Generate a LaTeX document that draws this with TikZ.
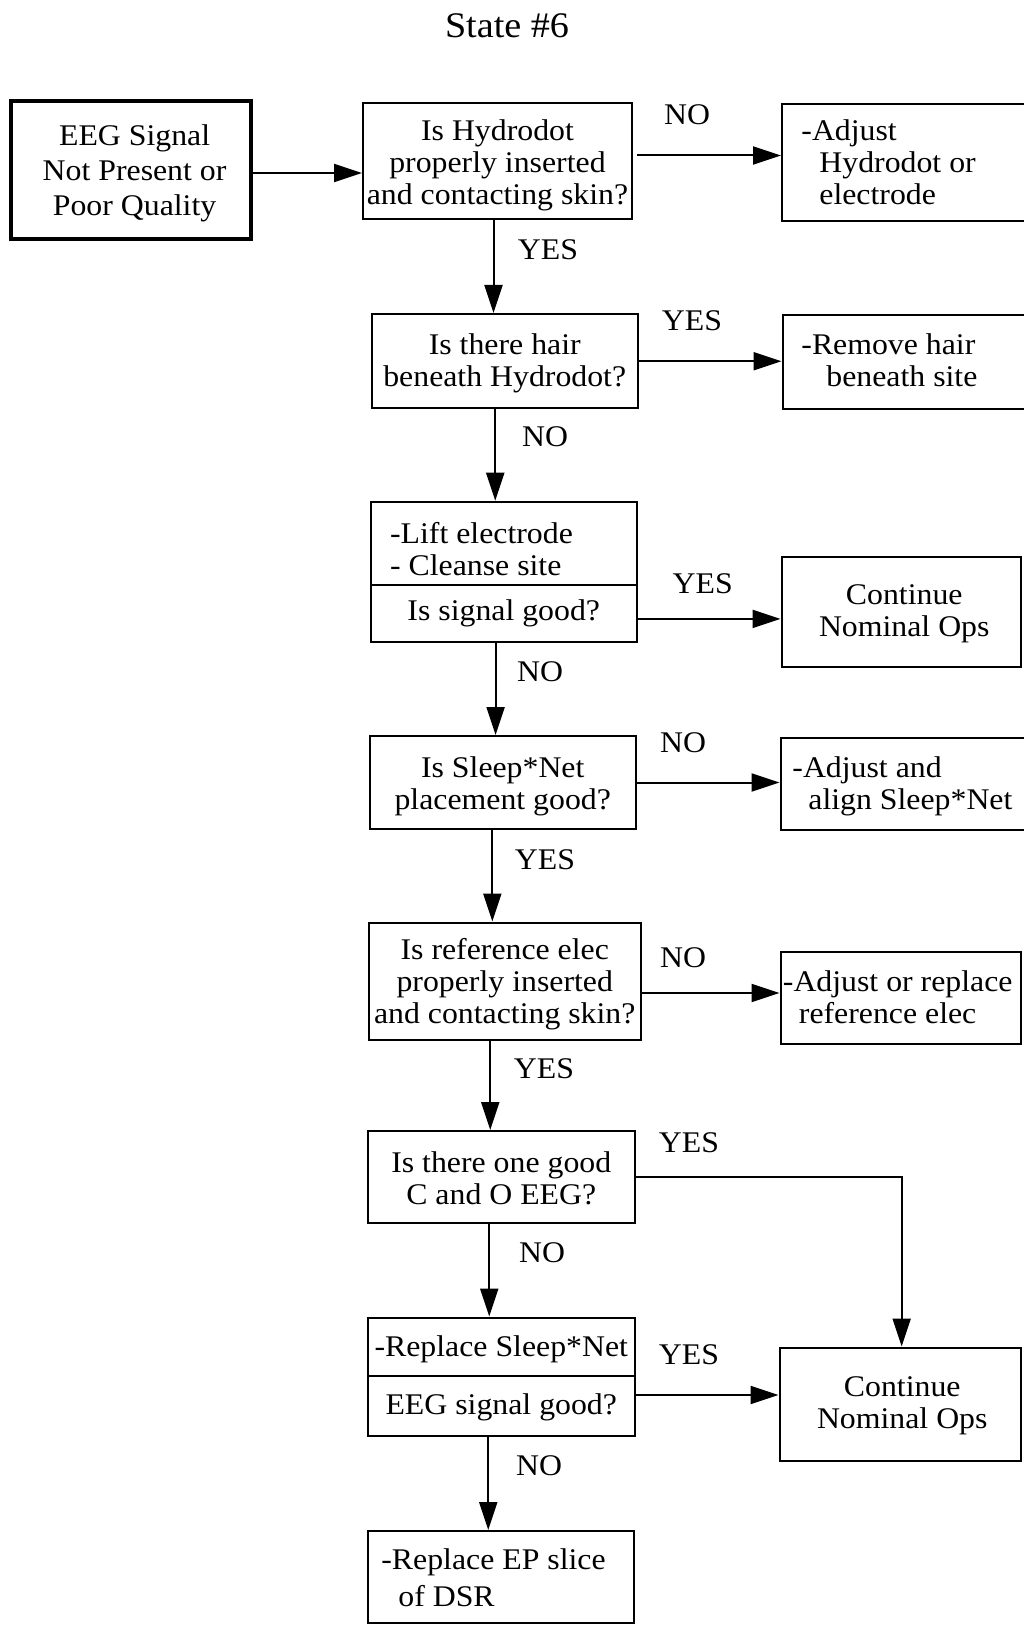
\documentclass[tikz,border=0pt]{standalone}
\usepackage{fontspec}
\setmainfont{Liberation Serif}[FakeStretch=1.06]
\usetikzlibrary{arrows.meta}
\newcommand{\bodysize}{\fontsize{15pt}{16pt}\selectfont}
\begin{document}
\begin{tikzpicture}[x=0.5pt,y=-0.5pt,
  box/.style={draw, line width=1pt, inner sep=0pt},
  inbox/.style={inner sep=0pt, align=center, font=\bodysize},
  txt/.style={inner sep=0pt, align=left, anchor=west, font=\bodysize},
  lbl/.style={inner sep=0pt, font=\bodysize},
  arr/.style={line width=1pt, -{Triangle[length=14pt,width=9pt]}},
]
\useasboundingbox (0,0) rectangle (1023,1625);

% title
\node[inner sep=0pt, font=\fontsize{18pt}{20pt}\selectfont] (title) at (507,26) {State \#6};

% left column of questions
\node[box, line width=1.7pt, minimum width=120pt, minimum height=69pt] (A) at (131,170) {};
\node[inbox, font=\fontsize{15pt}{17.5pt}\selectfont] (At) at ([xshift=1.8pt,yshift=-1.6pt]A.center)
      {EEG Signal\\Not Present or\\Poor Quality};
\node[box, minimum width=134.5pt, minimum height=58pt] (B) at (497.5,161) {};
\node[inbox] (Bt) at ([yshift=-2.1pt]B.center)
      {Is Hydrodot\\properly inserted\\and contacting skin?};
\node[box, minimum width=132.75pt, minimum height=47.25pt] (D) at (504.75,361.25) {};
\node[inbox] (Dt) at ([yshift=-1.1pt]D.center) {Is there hair\\beneath Hydrodot?};
\node[box, minimum width=132.75pt, minimum height=41.45pt] (F1) at (503.75,543.15) {};
\node[txt] (F1t) at (389.7,549.4) {-Lift electrode\\- Cleanse site};
\node[box, minimum width=132.75pt, minimum height=28.5pt] (F2) at (503.75,613.1) {};
\node[inbox] (F2t) at ([yshift=-0.3pt]F2.center) {Is signal good?};
\node[box, minimum width=132.75pt, minimum height=46.5pt] (H) at (502.75,782.5) {};
\node[inbox] (Ht) at ([yshift=-2pt]H.center) {Is Sleep*Net\\placement good?};
\node[box, minimum width=135.75pt, minimum height=58.5pt] (J) at (504.75,981) {};
\node[inbox] (Jt) at ([yshift=-1.4pt]J.center)
      {Is reference elec\\properly inserted\\and contacting skin?};
\node[box, minimum width=133.25pt, minimum height=46pt] (L) at (501.25,1177) {};
\node[inbox] (Lt) at ([yshift=-0.6pt]L.center) {Is there one good\\C and O EEG?};
\node[box, minimum width=133.25pt, minimum height=29pt] (M1) at (501.25,1346.5) {};
\node[inbox] (M1t) at ([yshift=-1.5pt]M1.center) {-Replace Sleep*Net};
\node[box, minimum width=133.25pt, minimum height=30pt] (M2) at (501.25,1405.5) {};
\node[inbox] (M2t) at ([yshift=-1pt]M2.center) {EEG signal good?};
\node[box, minimum width=132.75pt, minimum height=46pt] (O) at (500.75,1577) {};
\node[txt, font=\fontsize{15pt}{18.5pt}\selectfont] (Ot) at (381,1577.5)
      {-Replace EP slice\\\hspace*{8.5pt}of DSR};

% right column of actions
\node[box, minimum width=131.5pt, minimum height=58.5pt] (C) at (913.5,162.5) {};
\node[txt] (Ct) at (801,162.7) {-Adjust\\\hspace*{9pt}Hydrodot or\\\hspace*{9pt}electrode};
\node[box, minimum width=131.25pt, minimum height=47.25pt] (E) at (913.75,362.25) {};
\node[txt] (Et) at (801,360.5) {-Remove hair\\\hspace*{12.5pt}beneath site};
\node[box, minimum width=119.75pt, minimum height=54.95pt] (G) at (901.25,611.55) {};
\node[inbox] (Gt) at ([xshift=1.5pt,yshift=-1pt]G.center) {Continue\\Nominal Ops};
\node[box, minimum width=132.25pt, minimum height=46pt] (I) at (912.75,784) {};
\node[txt] (It) at (792,786.5) {-Adjust and\\\hspace*{8pt}align Sleep*Net};
\node[box, minimum width=120.25pt, minimum height=46.25pt] (K) at (900.75,997.75) {};
\node[txt] (Kt) at (782.5,997.6) {-Adjust or replace\\\hspace*{8pt}reference elec};
\node[box, minimum width=120.75pt, minimum height=56.5pt] (N) at (900.25,1404) {};
\node[inbox] (Nt) at ([xshift=1pt,yshift=-1pt]N.center) {Continue\\Nominal Ops};

% connectors
\draw[arr] ([yshift=-1.5pt]A.east) -- ([yshift=-1.5pt]A.east -| B.west);
\draw[arr] ([xshift=2pt,yshift=2.75pt]B.east) -- ([yshift=2.75pt]B.east -| C.west);
\draw[arr] ([xshift=-2pt]B.south) -- ([xshift=-2pt]B.south |- D.north);
\draw[arr] (D.east) -- (D.east -| E.west);
\draw[arr] ([xshift=-4.75pt]D.south) -- ([xshift=-4.75pt]D.south |- F1.north);
\draw[arr] ([yshift=-2.9pt]F2.east) -- ([yshift=-2.9pt]F2.east -| G.west);
\draw[arr] ([xshift=-4.1pt]F2.south) -- ([xshift=-4.1pt]F2.south |- H.north);
\draw[arr] (H.east) -- (H.east -| I.west);
\draw[arr] ([xshift=-5.2pt]H.south) -- ([xshift=-5.2pt]H.south |- J.north);
\draw[arr] ([yshift=-6pt]J.east) -- ([yshift=-6pt]J.east -| K.west);
\draw[arr] ([xshift=-7.25pt]J.south) -- ([xshift=-7.25pt]J.south |- L.north);
\draw[arr] (L.east) -| ([xshift=0.7pt]N.north);
\draw[arr] ([xshift=-6pt]L.south) -- ([xshift=-6pt]L.south |- M1.north);
\draw[arr] ([yshift=5.25pt]M2.east) -- ([yshift=5.25pt]M2.east -| N.west);
\draw[arr] ([xshift=-6.5pt]M2.south) -- ([xshift=-6.5pt]M2.south |- O.north);

% branch labels
\node[lbl] (no1)  at (687,115)    {NO};
\node[lbl] (yes1) at (548,250)    {YES};
\node[lbl] (yes2) at (692,321)    {YES};
\node[lbl] (no2)  at (545,437)    {NO};
\node[lbl] (yes3) at (702.7,583.5) {YES};
\node[lbl] (no3)  at (540,671.6)  {NO};
\node[lbl] (no4)  at (683,743)    {NO};
\node[lbl] (yes4) at (545,860)    {YES};
\node[lbl] (no5)  at (683,957.7)  {NO};
\node[lbl] (yes5) at (544,1068.6) {YES};
\node[lbl] (yes6) at (689,1143)   {YES};
\node[lbl] (no6)  at (542,1253)   {NO};
\node[lbl] (yes7) at (689,1354.7) {YES};
\node[lbl] (no7)  at (539,1465.6) {NO};
\end{tikzpicture}
\end{document}
